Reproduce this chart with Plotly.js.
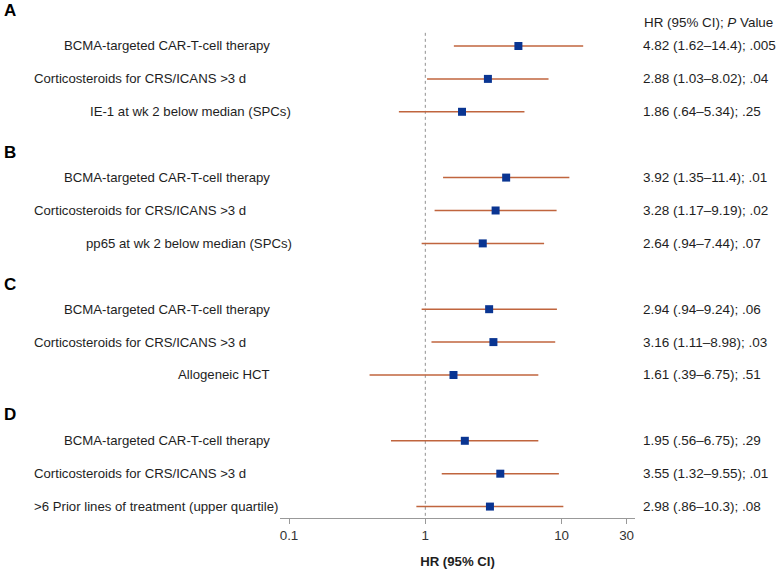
<!DOCTYPE html>
<html>
<head>
<meta charset="utf-8">
<script src="https://cdn.plot.ly/plotly-3.0.1.min.js"></script>
<style>html,body{margin:0;padding:0;background:#fff;}#chart{width:777px;height:570px;}</style>
</head>
<body>
<div id="chart"></div>
<script>
// ---- data ----
const panels = ['A', 'B', 'C', 'D'];
const labels = [
  'BCMA-targeted CAR-T-cell therapy', 'Corticosteroids for CRS/ICANS >3 d', 'IE-1 at wk 2 below median (SPCs)',
  'BCMA-targeted CAR-T-cell therapy', 'Corticosteroids for CRS/ICANS >3 d', 'pp65 at wk 2 below median (SPCs)',
  'BCMA-targeted CAR-T-cell therapy', 'Corticosteroids for CRS/ICANS >3 d', 'Allogeneic HCT',
  'BCMA-targeted CAR-T-cell therapy', 'Corticosteroids for CRS/ICANS >3 d', '>6 Prior lines of treatment (upper quartile)'
];
const hr     = [4.82, 2.88, 1.86, 3.92, 3.28, 2.64, 2.94, 3.16, 1.61, 1.95, 3.55, 2.98];
const ciLow  = [1.62, 1.03, 0.64, 1.35, 1.17, 0.94, 0.94, 1.11, 0.39, 0.56, 1.32, 0.86];
const ciHigh = [14.4, 8.02, 5.34, 11.4, 9.19, 7.44, 9.24, 8.98, 6.75, 6.75, 9.55, 10.3];
const pValues = ['.005', '.04', '.25', '.01', '.02', '.07', '.06', '.03', '.51', '.29', '.01', '.08'];
const tickVals = [0.1, 1, 10, 30];
const tickText = ['0.1', '1', '10', '30'];
const refValue = 1;

// ---- layout constants ----
const W = 777, H = 570;
const M = {l: 280, r: 142, t: 0, b: 52};
const plotW = W - M.l - M.r;
const labelRightPx = [272, 248, 293, 272, 248, 294, 272, 248, 272, 272, 248, 280];
const valueLeftPx = 641;
const letterY = [-0.08, 4.25, 8.26, 12.2];
const FONT = 'Liberation Sans, Arial, Helvetica, sans-serif';
const TXT = '#1e1e1e';

const rowY = labels.map((_, k) => Math.floor(k / 3) * 4 + (k % 3) + 1);
const fmt = v => String(v).replace(/^0\./, '.');
const pxToPaper = px => (px - M.l) / plotW;

// CI segments
const segX = [], segY = [];
hr.forEach((_, k) => { segX.push(ciLow[k], ciHigh[k], null); segY.push(rowY[k], rowY[k], null); });

const traces = [
  {x: [refValue, refValue], y: [0.6, 15.35], mode: 'lines', type: 'scatter',
   line: {color: '#8f8f8f', width: 1, dash: 'dot'}, hoverinfo: 'skip', showlegend: false},
  {x: segX, y: segY, mode: 'lines', type: 'scatter',
   line: {color: '#C0653E', width: 1.5}, hoverinfo: 'skip', showlegend: false},
  {x: hr, y: rowY, mode: 'markers', type: 'scatter',
   marker: {symbol: 'square', size: 8, color: '#0A3592'}, showlegend: false}
];

const annotations = [];
labels.forEach((lab, k) => {
  annotations.push({xref: 'paper', yref: 'y', x: pxToPaper(labelRightPx[k]), y: rowY[k],
    text: lab.replace(/>/g, '&gt;'), showarrow: false, xanchor: 'right', yanchor: 'middle',
    font: {family: FONT, size: 13.2, color: TXT}});
  annotations.push({xref: 'paper', yref: 'y', x: pxToPaper(valueLeftPx), y: rowY[k],
    text: `${hr[k].toFixed(2)} (${fmt(ciLow[k])}–${fmt(ciHigh[k])}); ${pValues[k]}`,
    showarrow: false, xanchor: 'left', yanchor: 'middle',
    font: {family: FONT, size: 13.5, color: TXT}});
});
panels.forEach((p, i) => {
  annotations.push({xref: 'paper', yref: 'y', x: pxToPaper(2), y: letterY[i], text: '<b>' + p + '</b>',
    showarrow: false, xanchor: 'left', yanchor: 'middle',
    font: {family: FONT, size: 17, color: '#000'}});
});
annotations.push({xref: 'paper', yref: 'y', x: pxToPaper(642), y: 0.3,
  text: 'HR (95% CI); <i>P</i> Value', showarrow: false, xanchor: 'left', yanchor: 'middle',
  font: {family: FONT, size: 13.4, color: TXT}});

const layout = {
  width: W, height: H,
  margin: M,
  paper_bgcolor: '#fff', plot_bgcolor: '#fff',
  showlegend: false,
  xaxis: {
    type: 'log', range: [-1.066, 1.5385], tickvals: tickVals, ticktext: tickText,
    showgrid: false, zeroline: false, showline: true, linecolor: '#999', linewidth: 1,
    ticks: 'outside', ticklen: 5, tickcolor: '#999', tickwidth: 1,
    tickfont: {family: FONT, size: 13.4, color: '#333'},
    title: {text: '<b>HR (95% CI)</b>', font: {family: FONT, size: 13.2, color: TXT}, standoff: 14},
    fixedrange: true
  },
  yaxis: {range: [15.347, -0.398], visible: false, fixedrange: true},
  annotations: annotations
};

Plotly.newPlot('chart', traces, layout, {displayModeBar: false, staticPlot: true});
</script>
</body>
</html>
